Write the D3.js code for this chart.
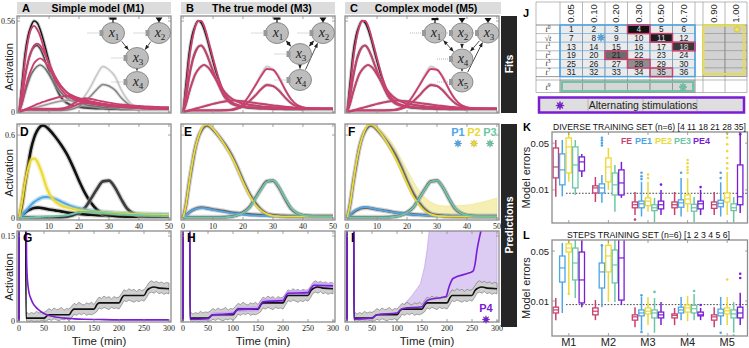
<!DOCTYPE html>
<html>
<head>
<meta charset="utf-8">
<script src="https://cdn.jsdelivr.net/npm/d3@7"></script>
<style>
  body { margin: 0; background: #fff; }
  svg { display: block; }
</style>
</head>
<body>
<div id="chart"></div>
<script>
// ---------- data ----------
const tShort = [0, 1, 2, 3, 4, 5, 6, 7, 8, 9, 10, 12, 14, 16, 18, 20, 22, 24, 26, 28, 30, 32, 34, 36, 38, 40, 42, 44, 46, 48, 50]

// training experiments (measured), panels A-C
const exp4 = [0, 0.18, 0.36, 0.47, 0.53, 0.56, 0.55, 0.51, 0.45, 0.38, 0.31, 0.18, 0.09, 0.055, 0.04, 0.035, 0.03, 0.03, 0.025, 0.025, 0.02, 0.02, 0.02, 0.02, 0.02, 0.015, 0.015, 0.015, 0.015, 0.015, 0.015]
const exp11 = [0, 0.1, 0.22, 0.31, 0.37, 0.4, 0.41, 0.39, 0.35, 0.3, 0.25, 0.16, 0.09, 0.055, 0.04, 0.03, 0.025, 0.022, 0.02, 0.02, 0.018, 0.017, 0.016, 0.015, 0.015, 0.015, 0.015, 0.015, 0.015, 0.015, 0.015]
const exp18 = [0, 0.05, 0.12, 0.18, 0.23, 0.26, 0.28, 0.29, 0.28, 0.26, 0.23, 0.17, 0.12, 0.085, 0.065, 0.05, 0.045, 0.04, 0.035, 0.03, 0.03, 0.025, 0.025, 0.02, 0.02, 0.02, 0.02, 0.02, 0.02, 0.02, 0.02]
const exp21 = [0, 0.005, 0.01, 0.01, 0.01, 0.01, 0.01, 0.01, 0.01, 0.01, 0.01, 0.01, 0.01, 0.015, 0.025, 0.05, 0.1, 0.16, 0.23, 0.28, 0.26, 0.22, 0.14, 0.08, 0.04, 0.025, 0.02, 0.015, 0.015, 0.015, 0.015]
const exp28 = [0, 0.005, 0.008, 0.01, 0.01, 0.01, 0.01, 0.01, 0.01, 0.01, 0.01, 0.01, 0.01, 0.012, 0.02, 0.035, 0.065, 0.1, 0.14, 0.17, 0.16, 0.135, 0.09, 0.055, 0.03, 0.02, 0.015, 0.015, 0.015, 0.015, 0.015]
const exp35 = [0, 0.005, 0.01, 0.015, 0.02, 0.025, 0.03, 0.035, 0.04, 0.045, 0.05, 0.06, 0.068, 0.072, 0.07, 0.066, 0.06, 0.055, 0.05, 0.045, 0.04, 0.035, 0.03, 0.028, 0.025, 0.022, 0.02, 0.02, 0.018, 0.018, 0.018]
const expData = [exp4, exp11, exp18, exp21, exp28, exp35]

// model fits
const fitsM1 = [
  [0, 0.15, 0.32, 0.44, 0.51, 0.53, 0.51, 0.47, 0.41, 0.35, 0.29, 0.2, 0.14, 0.1, 0.08, 0.065, 0.055, 0.05, 0.045, 0.04, 0.035, 0.032, 0.03, 0.028, 0.026, 0.024, 0.022, 0.02, 0.02, 0.02, 0.02],
  [0, 0.1, 0.22, 0.31, 0.37, 0.41, 0.42, 0.41, 0.38, 0.34, 0.3, 0.22, 0.16, 0.12, 0.09, 0.075, 0.065, 0.058, 0.052, 0.046, 0.04, 0.036, 0.032, 0.03, 0.027, 0.025, 0.023, 0.022, 0.021, 0.02, 0.02],
  [0, 0.06, 0.14, 0.21, 0.26, 0.3, 0.32, 0.33, 0.32, 0.3, 0.27, 0.21, 0.16, 0.12, 0.1, 0.085, 0.075, 0.066, 0.058, 0.05, 0.044, 0.039, 0.035, 0.032, 0.029, 0.027, 0.025, 0.023, 0.022, 0.021, 0.02],
  [0, 0.01, 0.015, 0.018, 0.02, 0.02, 0.02, 0.02, 0.02, 0.02, 0.02, 0.02, 0.022, 0.03, 0.05, 0.075, 0.085, 0.08, 0.072, 0.065, 0.058, 0.052, 0.047, 0.043, 0.04, 0.037, 0.035, 0.033, 0.031, 0.03, 0.029],
  [0, 0.008, 0.012, 0.014, 0.015, 0.015, 0.015, 0.015, 0.015, 0.015, 0.015, 0.015, 0.017, 0.022, 0.035, 0.05, 0.058, 0.056, 0.052, 0.048, 0.044, 0.04, 0.037, 0.034, 0.032, 0.03, 0.028, 0.027, 0.026, 0.025, 0.024],
  [0, 0.008, 0.016, 0.024, 0.032, 0.04, 0.048, 0.055, 0.062, 0.068, 0.074, 0.085, 0.094, 0.1, 0.095, 0.08, 0.07, 0.062, 0.055, 0.05, 0.045, 0.041, 0.038, 0.035, 0.033, 0.031, 0.03, 0.029, 0.028, 0.027, 0.026]
]
const fitsM3 = [
  [0, 0.14, 0.32, 0.44, 0.52, 0.56, 0.56, 0.53, 0.47, 0.4, 0.33, 0.2, 0.11, 0.065, 0.045, 0.035, 0.03, 0.027, 0.025, 0.023, 0.022, 0.02, 0.02, 0.02, 0.02, 0.02, 0.02, 0.02, 0.02, 0.02, 0.02],
  [0, 0.09, 0.21, 0.3, 0.36, 0.4, 0.41, 0.39, 0.35, 0.3, 0.25, 0.16, 0.09, 0.055, 0.04, 0.032, 0.028, 0.025, 0.023, 0.022, 0.021, 0.02, 0.02, 0.02, 0.02, 0.02, 0.02, 0.02, 0.02, 0.02, 0.02],
  [0, 0.05, 0.12, 0.18, 0.23, 0.26, 0.28, 0.29, 0.28, 0.26, 0.23, 0.17, 0.12, 0.085, 0.065, 0.052, 0.045, 0.04, 0.035, 0.032, 0.03, 0.028, 0.026, 0.025, 0.024, 0.023, 0.022, 0.022, 0.021, 0.021, 0.02],
  [0, 0.005, 0.008, 0.01, 0.01, 0.01, 0.01, 0.01, 0.01, 0.01, 0.01, 0.01, 0.012, 0.015, 0.025, 0.05, 0.1, 0.16, 0.22, 0.265, 0.26, 0.21, 0.14, 0.08, 0.045, 0.03, 0.022, 0.02, 0.02, 0.02, 0.02],
  [0, 0.005, 0.008, 0.01, 0.01, 0.01, 0.01, 0.01, 0.01, 0.01, 0.01, 0.01, 0.011, 0.012, 0.02, 0.035, 0.065, 0.1, 0.14, 0.165, 0.16, 0.13, 0.09, 0.055, 0.035, 0.025, 0.02, 0.02, 0.02, 0.02, 0.02],
  [0, 0.005, 0.01, 0.015, 0.02, 0.025, 0.03, 0.035, 0.04, 0.045, 0.05, 0.058, 0.065, 0.07, 0.07, 0.066, 0.061, 0.056, 0.051, 0.046, 0.041, 0.037, 0.033, 0.03, 0.027, 0.025, 0.023, 0.022, 0.021, 0.02, 0.02]
]
const fitsM5 = fitsM3

// prediction experiments (measured), panels D-F
const dataP1 = [0, 0.02, 0.04, 0.055, 0.065, 0.072, 0.075, 0.074, 0.07, 0.066, 0.062, 0.055, 0.048, 0.04, 0.035, 0.03, 0.026, 0.023, 0.021, 0.019, 0.017, 0.016, 0.015, 0.014, 0.013, 0.013, 0.012, 0.012, 0.012, 0.012, 0.012]
const dataP2 = [0, 0.1, 0.25, 0.38, 0.5, 0.58, 0.63, 0.66, 0.67, 0.66, 0.64, 0.59, 0.53, 0.46, 0.37, 0.27, 0.18, 0.11, 0.06, 0.03, 0.02, 0.015, 0.012, 0.01, 0.01, 0.01, 0.01, 0.01, 0.01, 0.01, 0.01]
const dataP3 = [0, 0.005, 0.005, 0.005, 0.005, 0.005, 0.005, 0.005, 0.005, 0.005, 0.005, 0.005, 0.006, 0.01, 0.02, 0.04, 0.075, 0.14, 0.21, 0.265, 0.27, 0.22, 0.14, 0.07, 0.035, 0.02, 0.015, 0.012, 0.012, 0.012, 0.012]

const m1P1 = [0, 0.02, 0.045, 0.07, 0.095, 0.115, 0.13, 0.142, 0.15, 0.152, 0.15, 0.138, 0.118, 0.098, 0.082, 0.07, 0.06, 0.053, 0.047, 0.043, 0.04, 0.037, 0.035, 0.033, 0.031, 0.03, 0.029, 0.028, 0.027, 0.026, 0.025]
const m1P2 = [0, 0.12, 0.26, 0.36, 0.42, 0.43, 0.41, 0.36, 0.3, 0.23, 0.18, 0.12, 0.09, 0.075, 0.065, 0.057, 0.051, 0.046, 0.042, 0.039, 0.036, 0.034, 0.032, 0.03, 0.028, 0.026, 0.025, 0.024, 0.023, 0.022, 0.021]
const m1P3 = [0, 0.002, 0.003, 0.004, 0.005, 0.006, 0.007, 0.008, 0.009, 0.01, 0.011, 0.013, 0.016, 0.02, 0.03, 0.042, 0.046, 0.044, 0.04, 0.036, 0.032, 0.029, 0.026, 0.024, 0.022, 0.02, 0.018, 0.017, 0.016, 0.015, 0.014]
const m3P1 = [0, 0.02, 0.04, 0.055, 0.064, 0.07, 0.072, 0.071, 0.068, 0.064, 0.059, 0.05, 0.042, 0.035, 0.029, 0.024, 0.02, 0.017, 0.015, 0.013, 0.012, 0.011, 0.01, 0.01, 0.01, 0.01, 0.01, 0.01, 0.01, 0.01, 0.01]
const m3P2 = [0, 0.1, 0.25, 0.39, 0.5, 0.58, 0.64, 0.67, 0.675, 0.665, 0.645, 0.59, 0.525, 0.45, 0.36, 0.26, 0.17, 0.1, 0.055, 0.028, 0.016, 0.012, 0.01, 0.01, 0.01, 0.01, 0.01, 0.01, 0.01, 0.01, 0.01]
const m3P3 = [0, 0.004, 0.004, 0.004, 0.004, 0.004, 0.004, 0.004, 0.004, 0.004, 0.004, 0.004, 0.005, 0.009, 0.018, 0.038, 0.072, 0.135, 0.205, 0.262, 0.272, 0.225, 0.145, 0.075, 0.037, 0.02, 0.014, 0.011, 0.01, 0.01, 0.01]
const m5P1 = [0, 0.025, 0.045, 0.06, 0.07, 0.076, 0.078, 0.077, 0.073, 0.068, 0.063, 0.054, 0.046, 0.039, 0.033, 0.028, 0.024, 0.021, 0.019, 0.017, 0.016, 0.015, 0.014, 0.013, 0.013, 0.012, 0.012, 0.012, 0.012, 0.012, 0.012]
const m5P2 = [0, 0.1, 0.25, 0.39, 0.5, 0.58, 0.64, 0.67, 0.675, 0.665, 0.645, 0.59, 0.52, 0.44, 0.35, 0.25, 0.16, 0.095, 0.05, 0.026, 0.015, 0.012, 0.01, 0.01, 0.01, 0.01, 0.01, 0.01, 0.01, 0.01, 0.01]
const m5P2Upper = [0, 0.11, 0.26, 0.4, 0.51, 0.59, 0.65, 0.68, 0.685, 0.68, 0.665, 0.625, 0.575, 0.51, 0.43, 0.35, 0.27, 0.2, 0.15, 0.115, 0.095, 0.088, 0.086, 0.087, 0.09, 0.094, 0.1, 0.11, 0.12, 0.132, 0.145]
const m5P2Lower = [0, 0.095, 0.24, 0.38, 0.49, 0.57, 0.63, 0.66, 0.665, 0.655, 0.635, 0.575, 0.5, 0.42, 0.33, 0.235, 0.15, 0.088, 0.045, 0.022, 0.012, 0.01, 0.008, 0.008, 0.008, 0.008, 0.008, 0.008, 0.008, 0.008, 0.008]
const m5P3 = [0, 0.004, 0.004, 0.004, 0.004, 0.004, 0.004, 0.004, 0.004, 0.004, 0.004, 0.004, 0.005, 0.009, 0.019, 0.039, 0.074, 0.138, 0.208, 0.264, 0.27, 0.222, 0.142, 0.073, 0.036, 0.02, 0.014, 0.011, 0.01, 0.01, 0.01]

// alternating stimulation P4 (panels G-I)
const tBand = [15, 20, 25, 30, 35, 40, 45, 50, 55, 60, 65, 70, 75, 80, 85, 90, 95, 100, 105, 110, 115, 120, 125, 130, 135, 140, 145, 150, 155, 160, 165, 170, 175, 180, 185, 190, 195, 200, 205, 210, 215, 220, 225, 230, 235, 240, 245, 250, 255, 260, 265, 270, 275, 280, 285, 290, 295, 300]
const p4Upper = [0.016, 0.012, 0.015, 0.013, 0.017, 0.014, 0.016, 0.015, 0.018, 0.022, 0.019, 0.023, 0.020, 0.021, 0.024, 0.019, 0.022, 0.021, 0.026, 0.031, 0.029, 0.033, 0.030, 0.028, 0.032, 0.030, 0.033, 0.029, 0.036, 0.042, 0.040, 0.044, 0.041, 0.043, 0.039, 0.043, 0.041, 0.042, 0.048, 0.055, 0.053, 0.057, 0.054, 0.056, 0.052, 0.056, 0.054, 0.055, 0.061, 0.068, 0.071, 0.068, 0.070, 0.067, 0.069, 0.066, 0.068, 0.067]
const p4Lower = [0.000, -0.001, 0.001, -0.002, 0.000, -0.001, 0.001, -0.001, 0.000, 0.003, 0.001, 0.004, 0.002, 0.000, 0.003, 0.002, 0.004, 0.001, 0.005, 0.012, 0.010, 0.013, 0.011, 0.014, 0.010, 0.012, 0.011, 0.013, 0.016, 0.023, 0.021, 0.024, 0.022, 0.020, 0.024, 0.022, 0.023, 0.021, 0.028, 0.036, 0.034, 0.037, 0.035, 0.033, 0.036, 0.034, 0.037, 0.035, 0.041, 0.049, 0.051, 0.049, 0.052, 0.048, 0.050, 0.047, 0.049, 0.048]
const tP4 = [0, 0.5, 13, 14, 50, 56, 60, 100, 106, 110, 150, 156, 160, 200, 206, 210, 250, 256, 262, 270, 280, 300]
const vP4 = [0, 0.3, 0.3, 0.005, 0.005, 0.009, 0.011, 0.011, 0.018, 0.021, 0.021, 0.029, 0.032, 0.032, 0.041, 0.045, 0.045, 0.054, 0.058, 0.06, 0.058, 0.057]

const tM1P4 = [0, 0.5, 14, 15, 16, 18, 20, 24, 28, 34, 40, 48, 60, 75, 90, 110, 130, 160, 200, 250, 300]
const vM1P4 = [0, 0.4, 0.4, 0.12, 0.085, 0.062, 0.05, 0.039, 0.031, 0.024, 0.019, 0.014, 0.0095, 0.0065, 0.005, 0.0038, 0.003, 0.0025, 0.002, 0.002, 0.002]
const tM3P4 = [0, 0.5, 13, 14, 50, 56, 60, 100, 106, 110, 150, 156, 160, 200, 206, 210, 250, 256, 262, 300]
const vM3P4 = [0, 0.4, 0.4, 0.003, 0.004, 0.009, 0.011, 0.013, 0.018, 0.02, 0.022, 0.03, 0.034, 0.036, 0.045, 0.049, 0.05, 0.058, 0.063, 0.062]
const vM3P4Upper = [0, 0.4, 0.4, 0.006, 0.007, 0.013, 0.015, 0.017, 0.022, 0.025, 0.027, 0.035, 0.039, 0.041, 0.05, 0.054, 0.055, 0.063, 0.068, 0.067]
const vM3P4Lower = [0, 0.4, 0.4, 0.001, 0.001, 0.006, 0.008, 0.009, 0.014, 0.016, 0.017, 0.025, 0.029, 0.031, 0.04, 0.044, 0.045, 0.052, 0.057, 0.056]
const tM5P4 = [0, 0.5, 13, 14, 50, 56, 60, 100, 106, 112, 150, 156, 162, 198, 204, 212, 245, 252, 256, 260, 268, 280, 300]
const vM5P4 = [0, 0.4, 0.4, 0.003, 0.005, 0.009, 0.011, 0.014, 0.019, 0.022, 0.025, 0.032, 0.037, 0.043, 0.06, 0.075, 0.085, 0.088, 0.1, 0.125, 0.16, 0.22, 0.3]
const tM5Upper = [0, 0.5, 13, 14, 50, 60, 100, 110, 120, 130, 140, 147, 155, 160, 166, 300]
const vM5Upper = [0, 0.4, 0.4, 0.006, 0.008, 0.015, 0.018, 0.026, 0.035, 0.045, 0.057, 0.066, 0.095, 0.125, 0.17, 0.4]
const tM5Lower = [0, 0.5, 13, 14, 50, 60, 100, 110, 150, 160, 200, 210, 250, 260, 300]
const vM5Lower = [0, 0.4, 0.4, 0.001, 0.002, 0.007, 0.01, 0.017, 0.02, 0.03, 0.033, 0.043, 0.045, 0.056, 0.056]

// J table
const colLabels = ["0.05", "0.10", "0.20", "0.30", "0.50", "0.70"]
const extraColLabels = ["0.90", "1.00"]
const rowExponents = ["0", "√", "1", "2", "3", "7"]
const trainingCells = [4, 11, 18, 21, 28, 35]
const trainingShades = ["#121212", "#1c1c1c", "#3a3a3a", "#6c6c6c", "#8e8e8e", "#d2d2d2"]

// K / L box plots: [low whisker, q1, median, q3, high whisker]
const models = ["M1", "M2", "M3", "M4", "M5"]
const estimators = ["FE", "PE1", "PE2", "PE3", "PE4"]
const diverseBoxes = [
  [[0.0079, 0.0151, 0.022, 0.0423, 0.0557], [0.008, 0.0119, 0.0199, 0.0345, 0.0557], [0.0132, 0.0179, 0.0439, 0.0598, 0.075], [0.0084, 0.0107, 0.0236, 0.0439, 0.0557], [0.0156, 0.0192, 0.0262, 0.0311, 0.0345]],
  [[0.0066, 0.009, 0.0107, 0.0115, 0.0156], [0.0064, 0.009, 0.0107, 0.0123, 0.0167], [0.01, 0.0132, 0.022, 0.03, 0.0424], [0.0047, 0.0084, 0.0119, 0.0179, 0.0236], [0.0076, 0.0084, 0.0127, 0.0199, 0.0262]],
  [[0.0042, 0.0054, 0.006, 0.0066, 0.0093], [0.004, 0.0054, 0.0062, 0.0068, 0.0132], [0.0047, 0.0058, 0.0068, 0.0076, 0.0132], [0.0033, 0.0049, 0.0054, 0.006, 0.0076], [0.0042, 0.0052, 0.006, 0.0068, 0.01]],
  [[0.0042, 0.0054, 0.006, 0.0066, 0.0093], [0.004, 0.0055, 0.0064, 0.0071, 0.015], [0.0047, 0.0062, 0.0073, 0.0084, 0.015], [0.0033, 0.0048, 0.0054, 0.0061, 0.0078], [0.0042, 0.0052, 0.0062, 0.0068, 0.01]],
  [[0.0042, 0.0053, 0.006, 0.0066, 0.0093], [0.004, 0.0056, 0.0063, 0.007, 0.013], [0.0042, 0.0066, 0.0076, 0.009, 0.0185], [0.0033, 0.0049, 0.0054, 0.0062, 0.0078], [0.0045, 0.006, 0.0079, 0.0236, 0.066]]
]
const diverseOutliers = [
  ["M2", "PE1", 0.06], ["M2", "PE1", 0.055], ["M2", "PE1", 0.05], ["M2", "PE1", 0.046],
  ["M3", "PE1", 0.0145], ["M3", "PE1", 0.016], ["M3", "PE1", 0.018], ["M3", "PE2", 0.015], ["M3", "PE2", 0.017], ["M3", "PE4", 0.012], ["M3", "FE", 0.0036],
  ["M4", "PE1", 0.018], ["M4", "PE2", 0.018], ["M4", "PE2", 0.02], ["M4", "PE2", 0.022], ["M4", "PE2", 0.025], ["M4", "PE2", 0.028], ["M4", "PE4", 0.011],
  ["M5", "PE1", 0.015], ["M5", "PE1", 0.018], ["M5", "PE2", 0.021], ["M5", "PE2", 0.025], ["M5", "PE2", 0.03], ["M5", "PE2", 0.038], ["M5", "PE2", 0.048], ["M5", "PE2", 0.06], ["M5", "PE2", 0.07], ["M5", "PE4", 0.068], ["M5", "PE4", 0.072]
]
const stepsBoxes = [
  [[0.0054, 0.0068, 0.0075, 0.0082, 0.011], [0.0068, 0.0184, 0.029, 0.0426, 0.065], [0.0129, 0.0484, 0.055, 0.063, 0.075], [0.011, 0.0197, 0.034, 0.055, 0.075], [0.0082, 0.0094, 0.0197, 0.0484, 0.075]],
  [[0.0054, 0.0064, 0.0072, 0.008, 0.0103], [0.0082, 0.0152, 0.0255, 0.034, 0.06], [0.0097, 0.0255, 0.0426, 0.06, 0.075], [0.0097, 0.0179, 0.0319, 0.0516, 0.075], [0.0088, 0.0103, 0.04, 0.075, 0.075]],
  [[0.0043, 0.0054, 0.006, 0.0064, 0.0082], [0.0039, 0.0062, 0.0068, 0.0075, 0.0114], [0.0046, 0.0066, 0.0072, 0.008, 0.0114], [0.0036, 0.0058, 0.0068, 0.0075, 0.011], [0.0046, 0.0058, 0.0064, 0.007, 0.0097]],
  [[0.0046, 0.0058, 0.0063, 0.0066, 0.008], [0.0054, 0.0068, 0.0075, 0.0082, 0.0114], [0.0052, 0.007, 0.008, 0.0088, 0.0118], [0.0054, 0.0068, 0.0078, 0.0087, 0.0125], [0.0054, 0.0062, 0.0064, 0.007, 0.008]],
  [[0.0043, 0.0054, 0.006, 0.0064, 0.0082], [0.0046, 0.0062, 0.0068, 0.0077, 0.0114], [0.0046, 0.0066, 0.0073, 0.008, 0.0114], [0.0036, 0.0058, 0.0066, 0.0075, 0.0097], [0.0046, 0.0058, 0.0068, 0.0082, 0.013]]
]
const stepsOutliers = [
  ["M1", "PE2", 0.0125], ["M2", "PE1", 0.06],
  ["M3", "PE1", 0.0037], ["M3", "PE1", 0.012], ["M3", "PE3", 0.0134],
  ["M4", "PE3", 0.0138], ["M4", "PE4", 0.0088],
  ["M5", "PE1", 0.0036], ["M5", "PE3", 0.0033], ["M5", "PE2", 0.02], ["M5", "PE4", 0.021], ["M5", "PE4", 0.024]
]
const errThreshold = 0.0089

// ---------- styles ----------
const pink = "#c8406e", blue = "#4ea6e6", yellow = "#ecd935", teal = "#6cc6a6", purple = "#7a1dd4"
const estColors = [pink, blue, yellow, teal, purple]
const sans = "'Liberation Sans', Arial, sans-serif"
const serif = "'Liberation Serif', 'DejaVu Serif', serif"

const svg = d3.select("#chart").append("svg")
  .attr("width", 749).attr("height", 348)
  .style("font-family", sans)
const defs = svg.append("defs")
defs.append("marker").attr("id", "arr")
  .attr("viewBox", "0 0 10 10").attr("refX", 9).attr("refY", 5)
  .attr("markerWidth", 6).attr("markerHeight", 6).attr("orient", "auto-start-reverse")
  .append("path").attr("d", "M0,1L10,5L0,9Z").attr("fill", "#222")

function starPath(r) {
  const pts = d3.range(16).map(i => {
    const a = Math.PI * i / 8 - Math.PI / 2
    const rr = i % 2 ? r * 0.45 : r
    return [Math.cos(a) * rr, Math.sin(a) * rr]
  })
  return d3.line()(pts) + "Z"
}
function star(x, y, r, color) {
  svg.append("path").attr("d", starPath(r)).attr("transform", `translate(${x},${y})`)
    .attr("fill", color).attr("stroke", d3.color(color).darker(0.6)).attr("stroke-width", 0.5)
}

// ---------- time-course panels ----------
const colX = [[17, 171], [181, 335], [345, 499]]
const rowY = [[16, 113], [124, 220], [231, 322]]

function makePanel(c, r, xDom, yDom) {
  const [x0, x1] = colX[c], [y0, y1] = rowY[r]
  const x = d3.scaleLinear().domain(xDom).range([x0, x1])
  const y = d3.scaleLinear().domain(yDom).range([y1, y0])
  const id = `clip${c}${r}`
  defs.append("clipPath").attr("id", id).append("rect")
    .attr("x", x0).attr("y", y0).attr("width", x1 - x0).attr("height", y1 - y0)
  const g = svg.append("g")
  const plot = g.append("g").attr("clip-path", `url(#${id})`)
  return { g, plot, x, y, x0, x1, y0, y1 }
}

function drawCurve(p, ts, vs, color, width, opacity = 1, curve = d3.curveMonotoneX) {
  const ln = d3.line().x((d, i) => p.x(ts[i])).y(d => p.y(d)).curve(curve)
  p.plot.append("path").datum(vs).attr("d", ln)
    .attr("fill", "none").attr("stroke", color).attr("stroke-width", width)
    .attr("stroke-opacity", opacity).attr("stroke-linejoin", "round")
}

// closed band: upper edge left-to-right, lower edge right-to-left
function drawBand(p, tu, vu, tl, vl, fill, stroke, curve = d3.curveMonotoneX) {
  const edge = d3.line().x(d => p.x(d[0])).y(d => p.y(d[1])).curve(curve)
  const up = edge(tu.map((t, i) => [t, vu[i]]))
  const lo = edge(tl.map((t, i) => [t, vl[i]]).reverse())
  p.plot.append("path").attr("d", up + "L" + lo.slice(1) + "Z")
    .attr("fill", fill).attr("stroke", stroke || "none").attr("stroke-width", 0.6)
}

function frame(p, xt, yt, xLabels, yLabels) {
  const g = p.g.append("g").attr("stroke", "#8c8c8c").attr("stroke-width", 0.8)
  xt.forEach(t => {
    g.append("line").attr("x1", p.x(t)).attr("x2", p.x(t)).attr("y1", p.y1).attr("y2", p.y1 - 3)
    g.append("line").attr("x1", p.x(t)).attr("x2", p.x(t)).attr("y1", p.y0).attr("y2", p.y0 + 3)
  })
  yt.forEach(v => {
    g.append("line").attr("y1", p.y(v)).attr("y2", p.y(v)).attr("x1", p.x0).attr("x2", p.x0 + 3)
    g.append("line").attr("y1", p.y(v)).attr("y2", p.y(v)).attr("x1", p.x1).attr("x2", p.x1 - 3)
  })
  p.g.append("rect").attr("x", p.x0).attr("y", p.y0).attr("width", p.x1 - p.x0).attr("height", p.y1 - p.y0)
    .attr("fill", "none").attr("stroke", "#8c8c8c").attr("stroke-width", 1.3)
  if (xLabels) xt.forEach(t => p.g.append("text").attr("x", p.x(t)).attr("y", p.y1 + 9)
    .attr("text-anchor", "middle").attr("font-family", serif).attr("font-size", 8).attr("fill", "#222").text(t))
  if (yLabels) yLabels.forEach(([v, s]) => p.g.append("text").attr("x", p.x0 - 2).attr("y", p.y(v) + 3)
    .attr("text-anchor", "end").attr("font-family", serif).attr("font-size", 8).attr("fill", "#222").text(s))
}

function panelLetter(x, y, s, size = 12) {
  svg.append("text").attr("x", x).attr("y", y).attr("font-weight", "bold").attr("font-size", size).text(s)
}
function yTitle(x, y, s) {
  svg.append("text").attr("transform", `translate(${x},${y}) rotate(-90)`).attr("text-anchor", "middle")
    .attr("font-size", 11).attr("fill", "#222").text(s)
}

// top row: fits
const expStyles = [["#9a9a9a", "#151515"], ["#b0b0b0", "#4a4a4a"], ["#bcbcbc", "#6e6e6e"], ["#e4e4e4", "#c6c6c6"], ["#c4c4c4", "#868686"], ["#cecece", "#9c9c9c"]]
const titles = ["Simple model (M1)", "The true model (M3)", "Complex model (M5)"]
const fitSets = [fitsM1, fitsM3, fitsM5]
const tMin = [0, 10, 20, 30, 40, 50]
fitSets.forEach((fits, c) => {
  const p = makePanel(c, 0, [-0.7, 50.7], [-0.006, 0.591])
  expData.forEach((d, i) => {
    drawCurve(p, tShort, d, expStyles[i][0], 3.5, 0.5)
    drawCurve(p, tShort, d, expStyles[i][1], 1.5)
  })
  fits.forEach(f => drawCurve(p, tShort, f, pink, 1.9))
  frame(p, tMin, [0, 0.56], false, c === 0 ? [[0.56, "0.56"], [0, "0"]] : null)
  const [bx0, bx1] = colX[c]
  svg.append("rect").attr("x", bx0).attr("y", 2).attr("width", (c === 2 ? 501 : bx1) - bx0).attr("height", 12).attr("fill", "#dcdcdc")
  svg.append("text").attr("x", (bx0 + bx1) / 2 + 4).attr("y", 11.5).attr("text-anchor", "middle")
    .attr("font-weight", "bold").attr("font-size", 10.5).text(titles[c])
  panelLetter(bx0 + 5, 12, "ABC"[c], 11)
})

// middle row: predictions P1-P3
;[[m1P1, m1P2, m1P3], [m3P1, m3P2, m3P3], [m5P1, m5P2, m5P3]].forEach((preds, c) => {
  const p = makePanel(c, 1, [-0.7, 50.7], [-0.0145, 0.68])
  if (c === 2) drawBand(p, tShort, m5P2Upper, tShort, m5P2Lower, "#f6efb4", "#efe28a")
  const dataCols = c === 0 ? ["#111", "#111", "#3c3c3c"] : ["#666", "#666", "#666"]
  ;[dataP1, dataP2, dataP3].forEach((d, i) => {
    drawCurve(p, tShort, d, "#a8a8a8", 5, 0.55)
    drawCurve(p, tShort, d, dataCols[i], 2.6)
  })
  const pc = [blue, yellow, teal]
  preds.forEach((d, i) => {
    if (c === 0 && i < 2) drawCurve(p, tShort, d, pc[i], 5, 0.35)
    drawCurve(p, tShort, d, pc[i], c === 0 ? 2 : 1.8)
  })
  frame(p, tMin, [0, 0.6], true, c === 0 ? [[0.6, "0.6"], [0, "0"]] : null)
  panelLetter(colX[c][0] + 3, 136, "DEF"[c])
})
// legend in F
;[["P1", blue, 458], ["P2", yellow, 474], ["P3", teal, 490]].forEach(([s, col, x]) => {
  svg.append("text").attr("x", x).attr("y", 136).attr("text-anchor", "middle").attr("font-weight", "bold")
    .attr("font-size", 11).attr("fill", col).text(s)
  star(x, 143.5, 3.8, col)
})

// bottom row: P4 alternating stimulations
const tLong = [0, 50, 100, 150, 200, 250, 300]
;[0, 1, 2].forEach(c => {
  const p = makePanel(c, 2, [-4, 304], [-0.0018, 0.1588])
  if (c === 2) drawBand(p, tM5Upper, vM5Upper, tM5Lower, vM5Lower, "#dccbf3", "#b99be6", d3.curveLinear)
  drawBand(p, tBand, p4Upper, tBand, p4Lower, "#cfcfcf", "#6e6e6e", d3.curveLinear)
  if (c === 1) drawBand(p, tM3P4, vM3P4Upper, tM3P4, vM3P4Lower, "#c8adef", null)
  drawCurve(p, tP4, vP4, "#111", 1.6)
  if (c === 0) drawCurve(p, tM1P4, vM1P4, purple, 1.6)
  if (c === 1) drawCurve(p, tM3P4, vM3P4, purple, 1.6)
  if (c === 2) drawCurve(p, tM5P4, vM5P4, purple, 1.6)
  frame(p, tLong, [0, 0.15], true, c === 0 ? [[0.15, "0.15"], [0, "0"]] : null)
  panelLetter(colX[c][0] + 6, 242, "GHI"[c])
  svg.append("text").attr("x", (colX[c][0] + colX[c][1]) / 2 + 5).attr("y", 345).attr("text-anchor", "middle")
    .attr("font-size", 11.5).attr("fill", "#222").text("Time (min)")
})
svg.append("text").attr("x", 486).attr("y", 312).attr("text-anchor", "middle").attr("font-weight", "bold")
  .attr("font-size", 11).attr("fill", purple).text("P4")
star(486, 319.5, 3.8, purple)

yTitle(13, 67, "Activation")
yTitle(13, 173, "Activation")
yTitle(13, 277, "Activation")

// side bars
svg.append("rect").attr("x", 501).attr("y", 16).attr("width", 16).attr("height", 97).attr("fill", "#262626")
svg.append("text").attr("transform", "translate(513,64) rotate(-90)").attr("text-anchor", "middle")
  .attr("fill", "#fff").attr("font-weight", "bold").attr("font-size", 10.5).text("Fits")
svg.append("rect").attr("x", 501).attr("y", 124).attr("width", 16).attr("height", 203).attr("fill", "#262626")
svg.append("text").attr("transform", "translate(513,225) rotate(-90)").attr("text-anchor", "middle")
  .attr("fill", "#fff").attr("font-weight", "bold").attr("font-size", 10.5).text("Predictions")

// ---------- network diagrams ----------
function diagram(nodes, edges, tops, rx, ry) {
  const g = svg.append("g")
  edges.forEach(([a, b, both]) => {
    const A = nodes[a], B = nodes[b]
    const dx = B.x - A.x, dy = B.y - A.y, L = Math.hypot(dx, dy)
    const ux = dx / L, uy = dy / L
    const ln = g.append("line")
      .attr("x1", A.x + ux * (rx + 1)).attr("y1", A.y + uy * (ry + 1))
      .attr("x2", B.x - ux * (rx + 1)).attr("y2", B.y - uy * (ry + 1))
      .attr("stroke", "#222").attr("stroke-width", 0.8).attr("marker-end", "url(#arr)")
    if (both) ln.attr("marker-start", "url(#arr)")
  })
  Object.entries(nodes).forEach(([k, n]) => {
    g.append("line").attr("x1", n.x - rx - 14).attr("x2", n.x - rx - 2).attr("y1", n.y).attr("y2", n.y)
      .attr("stroke", "#999").attr("stroke-width", 0.7).attr("stroke-dasharray", "1,1")
    g.append("ellipse").attr("cx", n.x).attr("cy", n.y).attr("rx", rx).attr("ry", ry)
      .attr("fill", "#bdbdbd").attr("stroke", "#7a7a7a").attr("stroke-width", 0.8)
    g.append("rect").attr("x", n.x - rx - 2).attr("y", n.y - 3).attr("width", 4).attr("height", 6).attr("fill", "#999")
    const t = g.append("text").attr("x", n.x + 1).attr("y", n.y + 3.5).attr("text-anchor", "middle")
      .attr("font-family", serif).attr("font-style", "italic").attr("font-size", 14).attr("fill", "#222")
    t.append("tspan").text("x")
    t.append("tspan").attr("font-size", 9).attr("dy", 3).attr("font-style", "normal").text(k)
  })
  tops.forEach(([k, type]) => {
    const n = nodes[k], ty = n.y - ry
    if (type === "bar") {
      g.append("line").attr("x1", n.x).attr("x2", n.x).attr("y1", ty - 4).attr("y2", ty).attr("stroke", "#111").attr("stroke-width", 1.2)
      g.append("rect").attr("x", n.x - 3.5).attr("y", ty - 5).attr("width", 7).attr("height", 2.2).attr("fill", "#111")
    } else {
      g.append("path").attr("d", `M${n.x - 3.5},${ty - 5}L${n.x + 3.5},${ty - 5}L${n.x},${ty}Z`).attr("fill", "#111")
    }
  })
}
diagram({ 1: { x: 113, y: 33 }, 2: { x: 159, y: 33 }, 3: { x: 137, y: 58 }, 4: { x: 137, y: 82 } },
  [[1, 3], [2, 3], [3, 4]], [[1, "bar"], [2, "tri"]], 11.5, 10.5)
diagram({ 1: { x: 277, y: 33 }, 2: { x: 323, y: 33 }, 3: { x: 300, y: 54 }, 4: { x: 300, y: 80 } },
  [[3, 1, true], [3, 2, true], [3, 4], [4, 2]], [[1, "bar"], [2, "tri"]], 11.5, 10.5)
diagram({ 1: { x: 435, y: 33 }, 2: { x: 462, y: 33 }, 3: { x: 488, y: 33 }, 4: { x: 462, y: 59 }, 5: { x: 462, y: 82 } },
  [[4, 1, true], [2, 4], [3, 4], [4, 5], [5, 3]], [[1, "bar"], [2, "tri"], [3, "tri"]], 11, 10)

// ---------- J: experiment table ----------
panelLetter(523, 17, "J", 11)
const colEdges = [560, 582.5, 605, 627.5, 650, 672.5, 695]
const extraEdges = [703, 725, 747]
const rowEdges = [25, 33.6, 42.2, 50.8, 59.4, 68, 76.6]
const jt = svg.append("g")
colLabels.forEach((c, ci) => rowExponents.forEach((r, ri) => {
  const id = ri * 6 + ci + 1
  const k = trainingCells.indexOf(id)
  jt.append("rect").attr("x", colEdges[ci]).attr("y", rowEdges[ri])
    .attr("width", colEdges[ci + 1] - colEdges[ci]).attr("height", rowEdges[ri + 1] - rowEdges[ri])
    .attr("fill", k >= 0 ? trainingShades[k] : "#ebebeb").attr("stroke", "#7fb9ea").attr("stroke-width", 0.8)
  jt.append("text").attr("x", (colEdges[ci] + colEdges[ci + 1]) / 2).attr("y", rowEdges[ri] + 7.3)
    .attr("text-anchor", "middle").attr("font-size", 8.3).attr("fill", k >= 0 && k < 3 ? "#ddd" : "#222").text(id)
}))
extraColLabels.forEach((c, ci) => rowExponents.forEach((r, ri) => {
  jt.append("rect").attr("x", extraEdges[ci]).attr("y", rowEdges[ri])
    .attr("width", 22).attr("height", rowEdges[ri + 1] - rowEdges[ri])
    .attr("fill", "#d2d2d2").attr("stroke", "#999").attr("stroke-width", 0.6)
}))
colLabels.forEach((c, ci) => jt.append("rect").attr("x", colEdges[ci]).attr("y", 80)
  .attr("width", colEdges[ci + 1] - colEdges[ci]).attr("height", 12.5).attr("fill", "#d6d6d6").attr("stroke", "#999").attr("stroke-width", 0.6))
;[536].concat(colEdges, extraEdges).forEach(x => jt.append("line").attr("x1", x).attr("x2", x).attr("y1", 2).attr("y2", 92.5)
  .attr("stroke", "#8a8a8a").attr("stroke-width", 0.6))
;[2, 25, 76.6, 80, 92.5].forEach(y => jt.append("line").attr("x1", 536).attr("x2", 747).attr("y1", y).attr("y2", y)
  .attr("stroke", "#8a8a8a").attr("stroke-width", 0.6))
rowEdges.forEach(y => jt.append("line").attr("x1", 536).attr("x2", 560).attr("y1", y).attr("y2", y).attr("stroke", "#8a8a8a").attr("stroke-width", 0.6))
colLabels.concat(extraColLabels).forEach((c, i) => {
  const cx = i < 6 ? (colEdges[i] + colEdges[i + 1]) / 2 : (extraEdges[i - 6] + extraEdges[i - 5]) / 2
  jt.append("text").attr("transform", `translate(${cx + 3},13.5) rotate(-90)`).attr("text-anchor", "middle")
    .attr("font-size", 9.5).attr("fill", "#222").text(c)
})
rowExponents.concat(["9"]).forEach((e, i) => {
  const y = i < 6 ? rowEdges[i] + 7 : 89.5
  const t = jt.append("text").attr("x", 548).attr("y", y).attr("text-anchor", "middle")
    .attr("font-family", serif).attr("font-style", "italic").attr("font-size", 8).attr("fill", "#333")
  if (e === "√") { t.append("tspan").attr("font-style", "normal").text("√"); t.append("tspan").text("t") }
  else { t.append("tspan").text("t"); t.append("tspan").attr("font-size", 5.5).attr("dy", -3).attr("font-style", "normal").text(e) }
})
jt.append("rect").attr("x", 560).attr("y", 25).attr("width", 135).attr("height", 51.6).attr("fill", "none").attr("stroke", blue).attr("stroke-width", 1.5)
jt.append("rect").attr("x", 703.5).attr("y", 25.5).attr("width", 40.5).attr("height", 48.5).attr("fill", "none").attr("stroke", "#e9dd45").attr("stroke-width", 2)
jt.append("rect").attr("x", 562).attr("y", 82).attr("width", 131).attr("height", 9).attr("fill", "none").attr("stroke", teal).attr("stroke-width", 2)
trainingCells.forEach(id => {
  const ri = Math.floor((id - 1) / 6), ci = (id - 1) % 6
  jt.append("rect").attr("x", colEdges[ci]).attr("y", rowEdges[ri])
    .attr("width", colEdges[ci + 1] - colEdges[ci]).attr("height", rowEdges[ri + 1] - rowEdges[ri])
    .attr("fill", "none").attr("stroke", pink).attr("stroke-width", 1.5)
})
star(737, 29.5, 4, "#f3e858")
star(601, 37.5, 4, blue)
star(683, 87, 4, teal)
svg.append("rect").attr("x", 539).attr("y", 97.5).attr("width", 205).attr("height", 15).attr("fill", "#dedede")
  .attr("stroke", purple).attr("stroke-width", 2.5)
;[588, 643, 697].forEach(x => svg.append("line").attr("x1", x).attr("x2", x).attr("y1", 99).attr("y2", 111).attr("stroke", "#999").attr("stroke-width", 0.6))
svg.append("text").attr("x", 643).attr("y", 109).attr("text-anchor", "middle").attr("font-size", 10.5).attr("fill", "#222").text("Alternating stimulations")
star(560, 105.5, 4.2, purple)

// ---------- K / L: model errors ----------
function boxPanel(y0, y1, domain, boxes, outliers, title, tx, tw, letter, showX) {
  const x = d3.scaleBand().domain(models).range([549, 747])
  const off = d3.scalePoint().domain(estimators).range([-13, 13])
  const y = d3.scaleLog().domain(domain).range([y1, y0])
  const id = "clip" + letter
  defs.append("clipPath").attr("id", id).append("rect").attr("x", 552).attr("y", y0).attr("width", 196).attr("height", y1 - y0)
  const g = svg.append("g").attr("clip-path", `url(#${id})`)
  g.append("line").attr("x1", 566).attr("x2", 748).attr("y1", y(errThreshold)).attr("y2", y(errThreshold))
    .attr("stroke", "#333").attr("stroke-width", 0.9).attr("stroke-dasharray", "1.6,1.6")
  const cxOf = (m, e) => x(m) + x.bandwidth() / 2 + off(e)
  models.forEach((m, mi) => estimators.forEach((e, ei) => {
    const [lo, q1, med, q3, hi] = boxes[mi][ei]
    const cx = cxOf(m, e), col = estColors[ei]
    g.append("line").attr("x1", cx).attr("x2", cx).attr("y1", y(hi)).attr("y2", y(q3)).attr("stroke", col).attr("stroke-width", 1.5)
    g.append("line").attr("x1", cx).attr("x2", cx).attr("y1", y(q1)).attr("y2", y(lo)).attr("stroke", col).attr("stroke-width", 1.5)
    g.append("rect").attr("x", cx - 2.7).attr("y", y(q3)).attr("width", 5.4).attr("height", y(q1) - y(q3))
      .attr("fill", "#fff").attr("stroke", col).attr("stroke-width", 1.3)
    g.append("line").attr("x1", cx - 2.7).attr("x2", cx + 2.7).attr("y1", y(med)).attr("y2", y(med)).attr("stroke", col).attr("stroke-width", 1.2)
  }))
  outliers.forEach(([m, e, v]) => g.append("circle").attr("cx", cxOf(m, e)).attr("cy", y(v)).attr("r", 1.3)
    .attr("fill", estColors[estimators.indexOf(e)]))
  const fr = svg.append("g").attr("stroke", "#8c8c8c").attr("stroke-width", 0.8)
  ;[0.05, 0.01].forEach(v => {
    fr.append("line").attr("x1", 552).attr("x2", 555).attr("y1", y(v)).attr("y2", y(v))
    fr.append("line").attr("x1", 748).attr("x2", 745).attr("y1", y(v)).attr("y2", y(v))
    svg.append("text").attr("x", 549).attr("y", y(v) + 3.5).attr("text-anchor", "end").attr("font-size", 9.5).attr("fill", "#222").text(v)
  })
  models.forEach(m => {
    const cx = x(m) + x.bandwidth() / 2
    fr.append("line").attr("x1", cx).attr("x2", cx).attr("y1", y1).attr("y2", y1 - 3)
    fr.append("line").attr("x1", cx).attr("x2", cx).attr("y1", y0).attr("y2", y0 + 3)
    if (showX) svg.append("text").attr("x", cx).attr("y", 345.5).attr("text-anchor", "middle").attr("font-size", 11).attr("fill", "#222").text(m)
  })
  svg.append("rect").attr("x", 552).attr("y", y0).attr("width", 195.5).attr("height", y1 - y0)
    .attr("fill", "none").attr("stroke", "#8c8c8c").attr("stroke-width", 1.3)
  svg.append("text").attr("x", tx).attr("y", y0 - 2).attr("font-size", 8.5).attr("fill", "#111")
    .attr("textLength", tw).attr("lengthAdjust", "spacingAndGlyphs").text(title)
  panelLetter(523, y0 - 1, letter, 11)
  yTitle(530, (y0 + y1) / 2, "Model errors")
}
boxPanel(132, 223, [0.0032, 0.0733], diverseBoxes, diverseOutliers, "DIVERSE TRAINING SET (n=6) [4 11 18 21 28 35]", 553, 193, "K", false)
boxPanel(240, 336, [0.00324, 0.0713], stepsBoxes, stepsOutliers, "STEPS TRAINING SET (n=6) [1 2 3 4 5 6]", 567, 163, "L", true)
// K legend
;[["FE", 621], ["PE1", 635], ["PE2", 655], ["PE3", 674], ["PE4", 693]].forEach(([s, x], i) => {
  svg.append("text").attr("x", x).attr("y", 144).attr("font-weight", "bold").attr("font-size", 9.5)
    .attr("textLength", s.length === 2 ? 11 : 17).attr("lengthAdjust", "spacingAndGlyphs")
    .attr("fill", estColors[i]).text(s)
})
</script>
</body>
</html>
